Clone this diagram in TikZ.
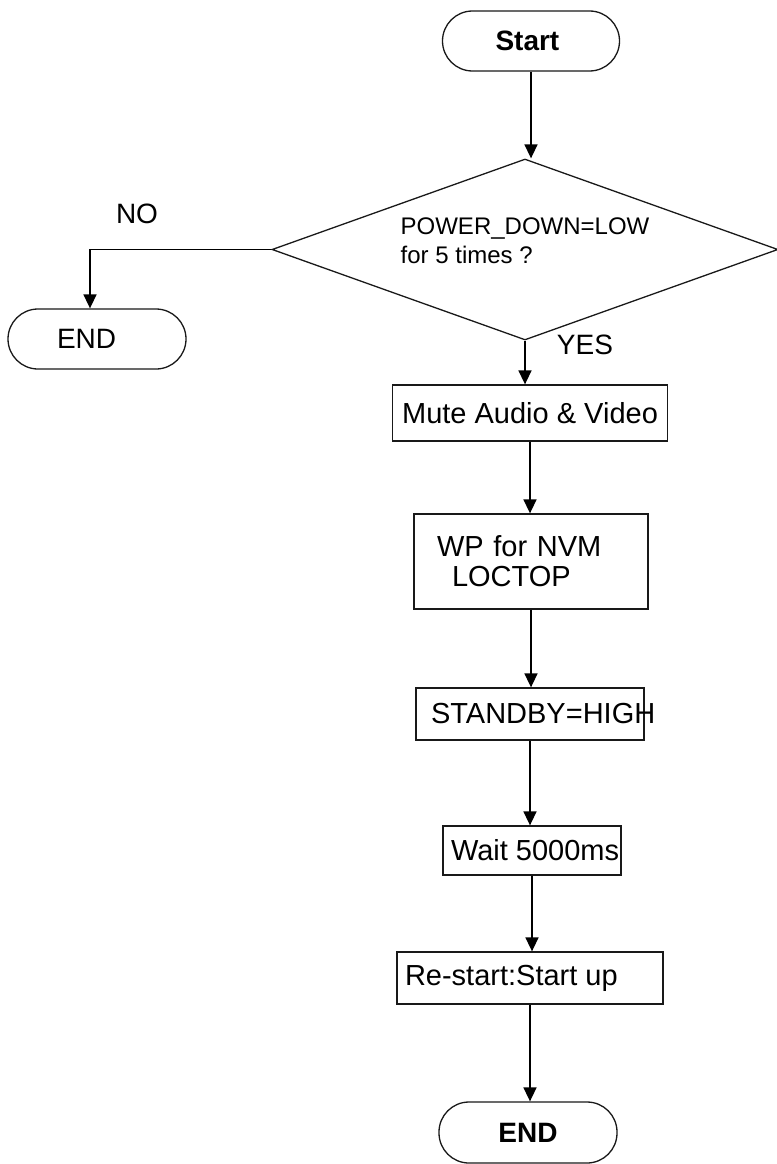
\documentclass[tikz,border=0pt]{standalone}
\usepackage{fontspec}
\setmainfont{Liberation Sans}
\usetikzlibrary{shapes.geometric,arrows.meta}
\begin{document}
\begin{tikzpicture}[x=1pt,y=-1pt,
  base/.style={draw=black!90,line width=1.3pt,inner sep=0pt,font=\fontsize{29}{31}\selectfont},
  terminal/.style={base,rectangle,rounded corners=30pt},
  stepbox/.style={base,rectangle},
  decision/.style={base,diamond,aspect=2.8},
  lbl/.style={font=\fontsize{28}{30}\selectfont,inner sep=0pt},
  arr/.style={line width=1.6pt,-{Triangle[width=13pt,length=14pt]}}]
\useasboundingbox (0,0) rectangle (776,1164);

\node[terminal,minimum width=177pt,minimum height=60pt] (start) at (531,41)
  {\makebox[177pt][l]{\hspace*{53pt}\fontsize{28}{30}\selectfont\bfseries Start}};
\node[decision,minimum width=506pt,minimum height=181pt,
  label={[inner sep=0pt,align=left,font=\fontsize{24}{29}\selectfont,yshift=9pt]center:POWER\_DOWN=LOW\\for 5 times ?}]
  (dec) at (525,249.5) {};
\node[terminal,minimum width=178pt,minimum height=60pt] (endL) at (97,339)
  {\makebox[178pt][l]{\hspace*{49pt}\fontsize{28}{30}\selectfont END}};
\node[stepbox,minimum width=275pt,minimum height=56pt] (mute) at (530,413) {Mute Audio \& Video};
\node[stepbox,minimum width=234pt,minimum height=95pt,text width=188pt,inner xsep=23pt,align=left,
  font=\fontsize{29}{30}\selectfont] (wp) at (531,561.5) {WP for NVM\\\hspace*{15pt}LOCTOP};
\node[stepbox,minimum width=228pt,minimum height=52pt] (stby) at (530,714)
  {\makebox[228pt][l]{\hspace*{15pt}STANDBY=HIGH}};
\node[stepbox,minimum width=178pt,minimum height=49pt] (wait) at (532,850.5)
  {\makebox[178pt][l]{\hspace*{8pt}Wait 5000ms}};
\node[stepbox,minimum width=266pt,minimum height=52pt] (restart) at (530,978)
  {\makebox[266pt][l]{\hspace*{8pt}Re-start:Start up}};
\node[terminal,minimum width=178pt,minimum height=61pt] (endB) at (528,1132.5)
  {\fontsize{28}{30}\selectfont\bfseries END};

\node[lbl] (no) at (137,214) {NO};
\node[lbl] (yes) at (585,345) {YES};
\coordinate (nok) at (90,249.5);

\draw[arr] (start.south) -- (start.south |- dec.north);
\draw[arr] (dec.west) -- (nok) -- (nok |- endL.north);
\draw[arr] (dec.south) -- (dec.south |- mute.north);
\draw[arr] (mute.south) -- (mute.south |- wp.north);
\draw[arr] (wp.south) -- (wp.south |- stby.north);
\draw[arr] (stby.south) -- (stby.south |- wait.north);
\draw[arr] (wait.south) -- (wait.south |- restart.north);
\draw[arr] (restart.south) -- (restart.south |- endB.north);
\end{tikzpicture}
\end{document}
